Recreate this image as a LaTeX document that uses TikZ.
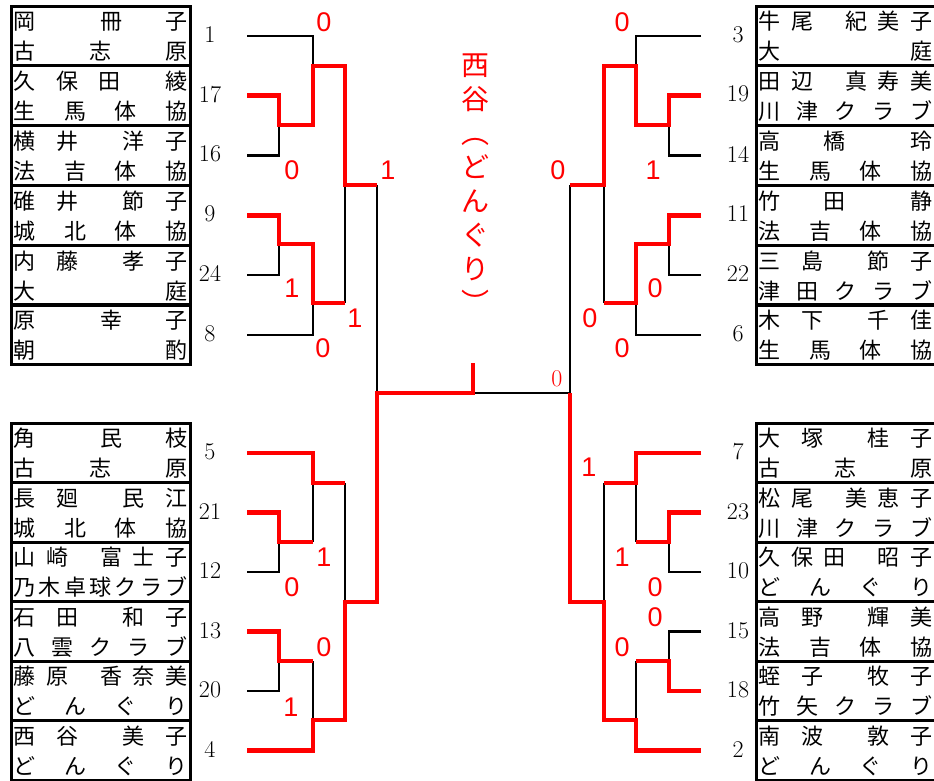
\documentclass[tikz,border=0pt]{standalone}
\usepackage{fontspec}
\newfontfamily\jpfont{Noto Sans CJK JP}
\newfontfamily\scorefont{Liberation Sans}

% one name row: characters centred on slots 0..14
\newlength\slotw
\setlength\slotw{10.85pt}
\newcommand\spots[1]{\hbox to 14\slotw{\foreach \px/\glyph in {#1}{\rlap{\hspace*{\px\slotw}\makebox[0pt]{\glyph}}}\hss}}
\def\spreadnext#1{\ifx#1\relax\else\hfill\makebox[0pt]{#1}\expandafter\spreadnext\fi}
\def\spreadfirst#1{\makebox[0pt]{#1}\spreadnext}
\newcommand\spread[1]{\hbox to 14\slotw{\spreadfirst#1\relax}}

\newcommand\player[5]{%
  \node[entrybox, minimum width=#3, anchor=west] (#1) at (#2) {};
  \node[namerow] (#1-name) at ([xshift=90.5pt, yshift=14pt]#1.west) {#4};
  \node[namerow] (#1-club) at ([xshift=90.5pt, yshift=-16pt]#1.west) {#5};
}

\begin{document}
\begin{tikzpicture}[x=1pt, y=-1pt,
  entrybox/.style={draw, line width=3pt, minimum height=59.6pt, inner sep=0pt},
  namerow/.style={inner sep=0pt, font=\jpfont\fontsize{22}{22}\selectfont, text height=18pt, text depth=2pt},
  seednum/.style={inner sep=0pt, font=\fontsize{24}{24}\selectfont},
  score/.style={inner sep=0pt, text=red, font=\scorefont\fontsize{27}{27}\selectfont},
  champion/.style={inner sep=0pt, text=red, font=\jpfont\fontsize{28}{28}\selectfont, text height=23pt, text depth=2.5pt},
  lose/.style={line width=2.5pt},
  win/.style={red, line width=4.5pt, line join=miter}]

\useasboundingbox (0,0) rectangle (934,780);

% left, upper block
\player{p1}{10,35.9}{178.5pt}{\spots{0/岡,8/冊,14/子}}{\spread{古志原}}
\player{p17}{10,95.7}{178.5pt}{\spots{0/久,4/保,7.8/田,14/綾}}{\spread{生馬体協}}
\player{p16}{10,155.5}{178.5pt}{\spots{0/横,4/井,10/洋,14/子}}{\spread{法吉体協}}
\player{p9}{10,215.3}{178.5pt}{\spots{0/碓,4/井,10/節,14/子}}{\spread{城北体協}}
\player{p24}{10,275.1}{178.5pt}{\spots{0/内,4/藤,10/孝,14/子}}{\spread{大庭}}
\player{p8}{10,334.9}{178.5pt}{\spots{0/原,8/幸,14/子}}{\spread{朝酌}}
% left, lower block
\player{p5}{10,452.8}{178.5pt}{\spots{0/角,8/民,14/枝}}{\spread{古志原}}
\player{p21}{10,512.3}{178.5pt}{\spots{0/長,4/廻,10/民,14/江}}{\spread{城北体協}}
\player{p12}{10,571.8}{178.5pt}{\spots{0/山,3/崎,8/富,11/士,14/子}}{\spread{乃木卓球クラブ}}
\player{p13}{10,631.3}{178.5pt}{\spots{0/石,4/田,10/和,14/子}}{\spread{八雲クラブ}}
\player{p20}{10,690.8}{178.5pt}{\spots{0/藤,3/原,8/香,11/奈,14/美}}{\spread{どんぐり}}
\player{p4}{10,750.3}{178.5pt}{\spots{0/西,4/谷,10/美,14/子}}{\spread{どんぐり}}
% right, upper block
\player{p3}{755,35.9}{190pt}{\spots{0/牛,3/尾,8/紀,11/美,14/子}}{\spread{大庭}}
\player{p19}{755,95.7}{190pt}{\spots{0/田,3/辺,8/真,11/寿,14/美}}{\spread{川津クラブ}}
\player{p14}{755,155.5}{190pt}{\spots{0/高,6/橋,14/玲}}{\spread{生馬体協}}
\player{p11}{755,215.3}{190pt}{\spots{0/竹,6/田,14/静}}{\spread{法吉体協}}
\player{p22}{755,275.1}{190pt}{\spots{0/三,4/島,10/節,14/子}}{\spread{津田クラブ}}
\player{p6}{755,334.9}{190pt}{\spots{0/木,4/下,10/千,14/佳}}{\spread{生馬体協}}
% right, lower block
\player{p7}{755,452.8}{190pt}{\spots{0/大,4/塚,10/桂,14/子}}{\spread{古志原}}
\player{p23}{755,512.3}{190pt}{\spots{0/松,3/尾,8/美,11/恵,14/子}}{\spread{川津クラブ}}
\player{p10}{755,571.8}{190pt}{\spots{0/久,3/保,6/田,11/昭,14/子}}{\spread{どんぐり}}
\player{p15}{755,631.3}{190pt}{\spots{0/高,4/野,10/輝,14/美}}{\spread{法吉体協}}
\player{p18}{755,690.8}{190pt}{\spots{0/蛭,4/子,10/牧,14/子}}{\spread{竹矢クラブ}}
\player{p2}{755,750.3}{190pt}{\spots{0/南,4/波,10/敦,14/子}}{\spread{どんぐり}}

% seed numbers
\foreach \n/\y in {1/34.4,17/94.2,16/154,9/213.8,24/273.6,8/333.4,5/451.8,21/511.3,12/570.8,13/630.3,20/689.8,4/749.3}
  \node[seednum] (seed\n) at (210,\y) {\n};
\foreach \n/\y in {3/34.4,19/94.2,14/154,11/213.8,22/273.6,6/333.4,7/451.8,23/511.3,10/570.8,15/630.3,18/689.8,2/749.3}
  \node[seednum] (seed\n) at (738,\y) {\n};

% bracket, losing sides
\draw[lose] (247,35.9) -| (313,66)  (247,155.5) -| (279,125)  (247,275.1) -| (279,244)
  (247,334.9) -| (313,303)  (345,185) -- (345,303)
  (377,185) -- (377,393) -- (570,393) -- (570,185)
  (247,571.8) -| (279,542)  (313,483) -- (313,542)  (345,483) -- (345,602)
  (247,690.8) -| (279,661)  (313,661) -- (313,720);
\draw[lose] (701,35.9) -| (636,66)  (701,155.5) -| (669,125)  (701,275.1) -| (669,244)
  (701,334.9) -| (636,303)  (604,185) -- (604,303)
  (701,571.8) -| (669,542)  (636,483) -- (636,542)  (604,483) -- (604,602)
  (701,631.3) -| (669,661)  (636,661) -- (636,720);

% bracket, winners
\draw[win] (247,95.7) -| (279,125) -| (313,66) -| (345,185) -- (377,185)
  (247,215.3) -| (279,244) -| (313,303) -- (345,303)
  (247,452.8) -| (313,483) -- (345,483)
  (247,512.3) -| (279,542) -- (313,542)
  (247,631.3) -| (279,661) -- (313,661)
  (247,750.3) -| (313,720) -| (345,602) -| (377,393) -| (473,363);
\draw[win] (701,95.7) -| (669,125) -| (636,66) -| (604,185) -- (570,185)
  (701,215.3) -| (669,244) -| (636,303) -- (604,303)
  (701,452.8) -| (636,483) -- (604,483)
  (701,512.3) -| (669,542) -- (636,542)
  (701,690.8) -| (669,661) -- (636,661)
  (701,750.3) -| (636,720) -| (604,602) -| (570,393);

% scores
\foreach \x/\y/\s [count=\i] in {324/22/0,292/170/0,388/170/1,292/288/1,355/318/1,323/348/0,
    622/22/0,558/170/0,653/170/1,655/288/0,590/318/0,622/348/0,
    324/557/1,292/587/0,324/647/0,291/707/1,
    589/467/1,622/557/1,655/587/0,655/617/0,622/647/0}
  \node[score] (score\i) at (\x,\y) {\s};
\node[score, font=\fontsize{24}{24}\selectfont] (final) at (557,379) {0};

% champion
\foreach \ch [count=\i] in {西,谷,︵,ど,ん,ぐ,り,︶}
  \node[champion] (champ\i) at (475,31+34*\i) {\ch};
\end{tikzpicture}
\end{document}
